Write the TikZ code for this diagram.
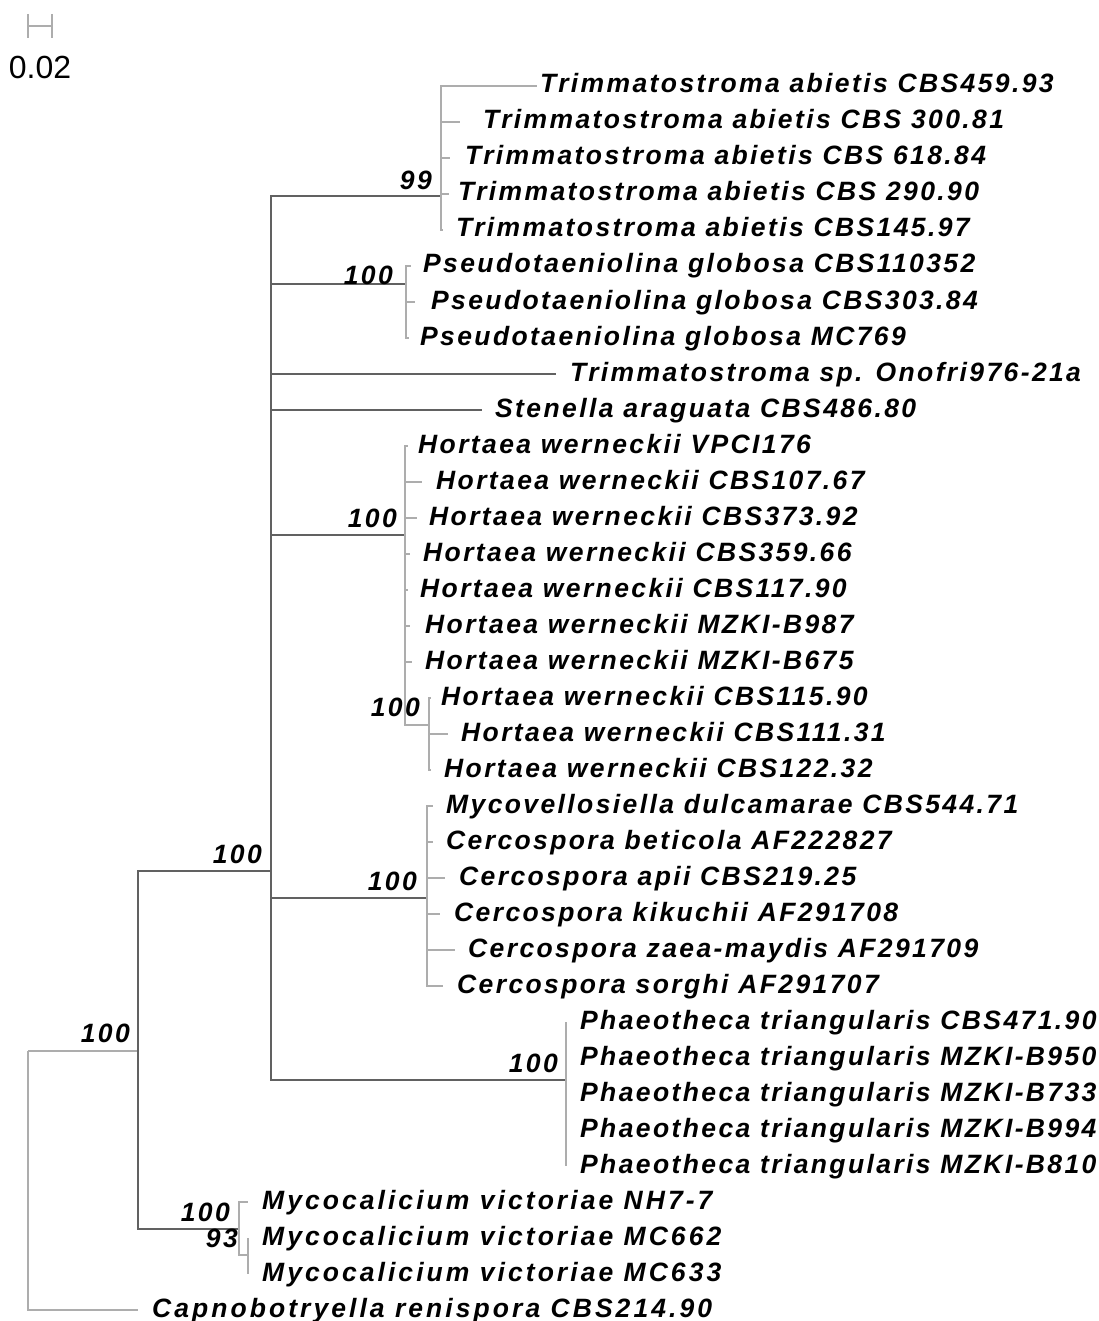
\documentclass[tikz,border=0pt]{standalone}
\usepackage{fontspec}
\setmainfont{Liberation Sans}
\newfontfamily\taxfont[LetterSpace=9]{Liberation Sans}
\newfontfamily\taxwide[LetterSpace=11.5]{Liberation Sans}
\tikzset{
  branch/.style={draw=black!62, line width=1.1pt},
  twig/.style={draw=black!32, line width=1.1pt},
  taxon/.style={anchor=base west, inner sep=0pt, font=\taxfont\bfseries\itshape\fontsize{26.5}{30}\selectfont},
  support/.style={anchor=east, inner sep=0pt, font=\taxfont\bfseries\itshape\fontsize{26.5}{30}\selectfont}
}

\begin{document}
\begin{tikzpicture}[x=1pt, y=-1pt]
\useasboundingbox (0,0) rectangle (1099,1321);

% scale bar
\coordinate (sb1) at (28,26);
\coordinate (sb2) at (52,26);
\draw[twig] (sb1) -- (sb2);
\draw[twig] ([shift={(0,-12)}]sb1) -- ([shift={(0,12)}]sb1);
\draw[twig] ([shift={(0,-12)}]sb2) -- ([shift={(0,12)}]sb2);
\node[inner sep=0pt, font=\fontsize{32}{36}\selectfont] (sblab) at (40,67) {0.02};

% internal nodes
\coordinate (R) at (28,1051);
\coordinate (A) at (138,1051);
\coordinate (B) at (271,871);
\coordinate (T) at (441,196);
\coordinate (P) at (406,284);
\coordinate (H) at (405,535);
\coordinate (H2) at (429,725);
\coordinate (C) at (427,898);
\coordinate (Ph) at (566,1080);
\coordinate (M) at (239,1229);
\coordinate (M2) at (248,1255);

% leaves: row / tip x / label x / name
\foreach \i/\tx/\lx/\name in {
  1/537/540/{Trimmatostroma abietis CBS459.93},
  2/460/483/{Trimmatostroma abietis CBS 300.81},
  3/450/465/{Trimmatostroma abietis CBS 618.84},
  4/449/458/{Trimmatostroma abietis CBS 290.90},
  5/443/456/{Trimmatostroma abietis CBS145.97},
  6/411/423/{Pseudotaeniolina globosa CBS110352},
  7/415/431/{Pseudotaeniolina globosa CBS303.84},
  8/409/420/{Pseudotaeniolina globosa MC769},
  9/556/570/{Trimmatostroma sp. Onofri976-21a},
  10/482/495/{Stenella araguata CBS486.80},
  11/408/418/{Hortaea werneckii VPCI176},
  12/422/436/{Hortaea werneckii CBS107.67},
  13/417/429/{Hortaea werneckii CBS373.92},
  14/410/423/{Hortaea werneckii CBS359.66},
  15/408/420/{Hortaea werneckii CBS117.90},
  16/410/425/{Hortaea werneckii MZKI-B987},
  17/412/425/{Hortaea werneckii MZKI-B675},
  18/431/441/{Hortaea werneckii CBS115.90},
  19/448/461/{Hortaea werneckii CBS111.31},
  20/431/444/{Hortaea werneckii CBS122.32},
  21/433/446/{Mycovellosiella dulcamarae CBS544.71},
  22/433/446/{Cercospora beticola AF222827},
  23/445/459/{Cercospora apii CBS219.25},
  24/440/454/{Cercospora kikuchii AF291708},
  25/455/468/{Cercospora zaea-maydis AF291709},
  26/443/457/{Cercospora sorghi AF291707},
  27/566/580/{Phaeotheca triangularis CBS471.90},
  28/566/580/{Phaeotheca triangularis MZKI-B950},
  29/566/580/{Phaeotheca triangularis MZKI-B733},
  30/566/580/{Phaeotheca triangularis MZKI-B994},
  31/566/580/{Phaeotheca triangularis MZKI-B810},
  32/248/262/{\taxwide Mycocalicium victoriae NH7-7},
  33/248/262/{\taxwide Mycocalicium victoriae MC662},
  34/248/262/{\taxwide Mycocalicium victoriae MC633},
  35/138/152/{\taxwide Capnobotryella renispora CBS214.90}}
{
  \coordinate (t\i) at (\tx,{86+36*(\i-1)});
  \node[taxon] (l\i) at (\lx,{93+36*(\i-1)}) {\name};
}

% branches
\draw[twig] (R) |- (A);
\draw[twig] (R) |- (t35);
\draw[branch] (A) |- (B);
\draw[branch] (A) |- (M);
\foreach \n in {T,P,t9,t10,H,C,Ph}
  \draw[branch] (B) |- (\n);
\foreach \i in {1,...,5}
  \draw[twig] (T) |- (t\i);
\foreach \i in {6,7,8}
  \draw[twig] (P) |- (t\i);
\foreach \i in {11,...,17}
  \draw[twig] (H) |- (t\i);
\draw[twig] (H) |- (H2);
\foreach \i in {18,19,20}
  \draw[twig] (H2) |- (t\i);
\foreach \i in {21,...,26}
  \draw[twig] (C) |- (t\i);
\foreach \i in {27,...,31}
  \draw[twig] (Ph) |- (t\i);
\draw[twig] (M) |- (t32);
\draw[twig] (M) |- (M2);
\draw[twig] (M2) |- (t33);
\draw[twig] (M2) |- (t34);

% bootstrap values
\node[support] (bT) at ([shift={(-9,-16)}]T) {99};
\node[support] (bP) at ([shift={(-13,-9)}]P) {100};
\node[support] (bH) at ([shift={(-8,-17)}]H) {100};
\node[support] (bH2) at ([shift={(-9,-18)}]H2) {100};
\node[support] (bC) at ([shift={(-10,-17)}]C) {100};
\node[support] (bPh) at ([shift={(-8,-17)}]Ph) {100};
\node[support] (bB) at ([shift={(-9,-17)}]B) {100};
\node[support] (bA) at ([shift={(-8,-18)}]A) {100};
\node[support] (bM) at ([shift={(-9,-17)}]M) {100};
\node[support] (bM2) at ([shift={(-10,-17)}]M2) {93};
\end{tikzpicture}
\end{document}
